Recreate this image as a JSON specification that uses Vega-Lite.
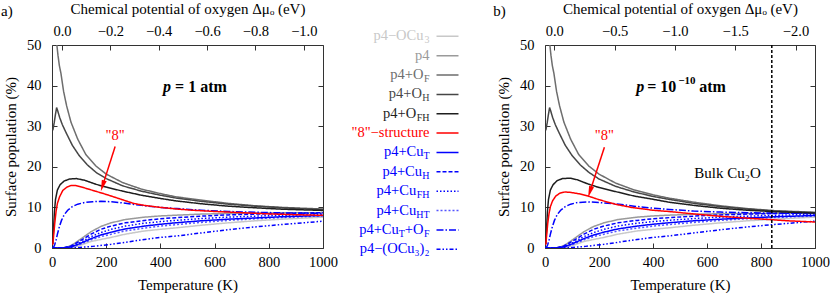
{
"$schema": "https://vega.github.io/schema/vega-lite/v6.json",
"padding": {"left": 0, "top": 0, "right": 0, "bottom": 0},
"config": {
  "font": "Liberation Serif",
  "view": {"stroke": "#333333", "strokeWidth": 1},
  "axis": {"labelFont": "Liberation Serif", "titleFont": "Liberation Serif", "labelFontSize": 14.5, "titleFontSize": 15, "titleFontWeight": "normal", "labelColor": "#000000", "titleColor": "#000000", "tickColor": "#333333", "tickSize": -5, "tickWidth": 1, "domain": false, "grid": false, "labelFlush": false, "labelOverlap": false},
  "axisBottom": {"labelPadding": 12, "titlePadding": 9},
  "axisLeft": {"labelPadding": 16, "titlePadding": 8},
  "axisTop": {"labelPadding": 12, "titlePadding": 7},
  "axisRight": {"labelPadding": 0}
},
"datasets": {
"A": [
{"s":"OCu3","T":0,"v":0},{"s":"OCu3","T":50,"v":0},{"s":"OCu3","T":80,"v":0.2},{"s":"OCu3","T":110,"v":0.8},{"s":"OCu3","T":144,"v":1.6},{"s":"OCu3","T":180,"v":2.1},{"s":"OCu3","T":218,"v":2.6},{"s":"OCu3","T":270,"v":3.4},{"s":"OCu3","T":341,"v":4.2},{"s":"OCu3","T":400,"v":4.6},{"s":"OCu3","T":464,"v":5.0},{"s":"OCu3","T":550,"v":5.6},{"s":"OCu3","T":650,"v":6.2},{"s":"OCu3","T":750,"v":6.7},{"s":"OCu3","T":850,"v":7.1},{"s":"OCu3","T":1000,"v":7.6},
{"s":"p4","T":0,"v":0},{"s":"p4","T":40,"v":0},{"s":"p4","T":60,"v":0.3},{"s":"p4","T":80,"v":1.0},{"s":"p4","T":110,"v":2.4},{"s":"p4","T":144,"v":4.0},{"s":"p4","T":180,"v":5.3},{"s":"p4","T":218,"v":6.2},{"s":"p4","T":270,"v":7.0},{"s":"p4","T":341,"v":7.6},{"s":"p4","T":400,"v":7.9},{"s":"p4","T":464,"v":8.1},{"s":"p4","T":550,"v":8.35},{"s":"p4","T":650,"v":8.5},{"s":"p4","T":750,"v":8.6},{"s":"p4","T":850,"v":8.65},{"s":"p4","T":1000,"v":8.7},
{"s":"CuHT","T":0,"v":0},{"s":"CuHT","T":40,"v":0},{"s":"CuHT","T":70,"v":0.2},{"s":"CuHT","T":100,"v":0.8},{"s":"CuHT","T":144,"v":2.0},{"s":"CuHT","T":180,"v":2.8},{"s":"CuHT","T":218,"v":3.4},{"s":"CuHT","T":270,"v":4.2},{"s":"CuHT","T":341,"v":4.9},{"s":"CuHT","T":400,"v":5.4},{"s":"CuHT","T":464,"v":5.8},{"s":"CuHT","T":550,"v":6.3},{"s":"CuHT","T":650,"v":6.8},{"s":"CuHT","T":750,"v":7.2},{"s":"CuHT","T":850,"v":7.5},{"s":"CuHT","T":1000,"v":7.9},
{"s":"CuFH","T":0,"v":0},{"s":"CuFH","T":40,"v":0},{"s":"CuFH","T":70,"v":0.3},{"s":"CuFH","T":100,"v":1.2},{"s":"CuFH","T":144,"v":2.8},{"s":"CuFH","T":180,"v":3.8},{"s":"CuFH","T":218,"v":4.6},{"s":"CuFH","T":270,"v":5.4},{"s":"CuFH","T":341,"v":6.1},{"s":"CuFH","T":400,"v":6.5},{"s":"CuFH","T":464,"v":6.85},{"s":"CuFH","T":550,"v":7.25},{"s":"CuFH","T":650,"v":7.6},{"s":"CuFH","T":750,"v":7.85},{"s":"CuFH","T":850,"v":8.05},{"s":"CuFH","T":1000,"v":8.3},
{"s":"CuH","T":0,"v":0},{"s":"CuH","T":40,"v":0},{"s":"CuH","T":70,"v":0.5},{"s":"CuH","T":100,"v":1.6},{"s":"CuH","T":144,"v":3.4},{"s":"CuH","T":180,"v":4.6},{"s":"CuH","T":218,"v":5.4},{"s":"CuH","T":270,"v":6.2},{"s":"CuH","T":341,"v":6.8},{"s":"CuH","T":400,"v":7.2},{"s":"CuH","T":464,"v":7.5},{"s":"CuH","T":550,"v":7.85},{"s":"CuH","T":650,"v":8.15},{"s":"CuH","T":750,"v":8.35},{"s":"CuH","T":850,"v":8.5},{"s":"CuH","T":1000,"v":8.7},
{"s":"CuT","T":0,"v":0},{"s":"CuT","T":40,"v":0},{"s":"CuT","T":70,"v":0.3},{"s":"CuT","T":100,"v":1.0},{"s":"CuT","T":144,"v":2.3},{"s":"CuT","T":180,"v":3.2},{"s":"CuT","T":218,"v":3.9},{"s":"CuT","T":270,"v":4.7},{"s":"CuT","T":341,"v":5.4},{"s":"CuT","T":400,"v":5.85},{"s":"CuT","T":464,"v":6.25},{"s":"CuT","T":550,"v":6.7},{"s":"CuT","T":650,"v":7.1},{"s":"CuT","T":750,"v":7.4},{"s":"CuT","T":850,"v":7.7},{"s":"CuT","T":1000,"v":8.0},
{"s":"OCu32","T":0,"v":0},{"s":"OCu32","T":40,"v":0},{"s":"OCu32","T":100,"v":0.15},{"s":"OCu32","T":150,"v":0.4},{"s":"OCu32","T":218,"v":0.9},{"s":"OCu32","T":280,"v":1.5},{"s":"OCu32","T":341,"v":2.1},{"s":"OCu32","T":400,"v":2.6},{"s":"OCu32","T":464,"v":3.0},{"s":"OCu32","T":550,"v":3.7},{"s":"OCu32","T":650,"v":4.5},{"s":"OCu32","T":750,"v":5.2},{"s":"OCu32","T":850,"v":5.8},{"s":"OCu32","T":1000,"v":6.6},
{"s":"CuTOF","T":0,"v":0},{"s":"CuTOF","T":5,"v":0.1},{"s":"CuTOF","T":10,"v":0.8},{"s":"CuTOF","T":15,"v":2.0},{"s":"CuTOF","T":20,"v":3.4},{"s":"CuTOF","T":27,"v":5.2},{"s":"CuTOF","T":35,"v":6.8},{"s":"CuTOF","T":45,"v":8.2},{"s":"CuTOF","T":58,"v":9.3},{"s":"CuTOF","T":75,"v":10.2},{"s":"CuTOF","T":95,"v":10.8},{"s":"CuTOF","T":120,"v":11.2},{"s":"CuTOF","T":150,"v":11.4},{"s":"CuTOF","T":180,"v":11.5},{"s":"CuTOF","T":220,"v":11.4},{"s":"CuTOF","T":260,"v":11.1},{"s":"CuTOF","T":330,"v":10.5},{"s":"CuTOF","T":400,"v":10.0},{"s":"CuTOF","T":460,"v":9.7},{"s":"CuTOF","T":550,"v":9.3},{"s":"CuTOF","T":650,"v":9.0},{"s":"CuTOF","T":750,"v":8.8},{"s":"CuTOF","T":850,"v":8.65},{"s":"CuTOF","T":1000,"v":8.5},
{"s":"OF","T":14,"v":58},{"s":"OF","T":18,"v":50},{"s":"OF","T":22,"v":47.5},{"s":"OF","T":27,"v":45},{"s":"OF","T":33,"v":43},{"s":"OF","T":43,"v":38.5},{"s":"OF","T":54,"v":35},{"s":"OF","T":70,"v":31},{"s":"OF","T":95,"v":26.8},{"s":"OF","T":125,"v":23},{"s":"OF","T":162,"v":20.2},{"s":"OF","T":200,"v":18.2},{"s":"OF","T":261,"v":16.1},{"s":"OF","T":330,"v":14.5},{"s":"OF","T":400,"v":13.4},{"s":"OF","T":458,"v":12.6},{"s":"OF","T":550,"v":11.8},{"s":"OF","T":650,"v":11.0},{"s":"OF","T":750,"v":10.4},{"s":"OF","T":850,"v":10.0},{"s":"OF","T":1000,"v":9.6},
{"s":"OH","T":3,"v":29},{"s":"OH","T":8,"v":30.8},{"s":"OH","T":13,"v":33},{"s":"OH","T":17,"v":34.6},{"s":"OH","T":21,"v":33.8},{"s":"OH","T":28,"v":32.2},{"s":"OH","T":38,"v":30.4},{"s":"OH","T":52,"v":28.4},{"s":"OH","T":75,"v":25.3},{"s":"OH","T":101,"v":22.7},{"s":"OH","T":130,"v":20.5},{"s":"OH","T":163,"v":18.6},{"s":"OH","T":200,"v":17.1},{"s":"OH","T":261,"v":15.3},{"s":"OH","T":330,"v":14.0},{"s":"OH","T":400,"v":13.0},{"s":"OH","T":458,"v":12.3},{"s":"OH","T":550,"v":11.5},{"s":"OH","T":650,"v":10.8},{"s":"OH","T":750,"v":10.3},{"s":"OH","T":850,"v":9.9},{"s":"OH","T":1000,"v":9.45},
{"s":"OFH","T":3,"v":1},{"s":"OFH","T":6,"v":5},{"s":"OFH","T":9,"v":9},{"s":"OFH","T":13,"v":12},{"s":"OFH","T":20,"v":14.3},{"s":"OFH","T":30,"v":15.6},{"s":"OFH","T":45,"v":16.5},{"s":"OFH","T":65,"v":17.0},{"s":"OFH","T":90,"v":17.1},{"s":"OFH","T":120,"v":16.7},{"s":"OFH","T":162,"v":15.7},{"s":"OFH","T":200,"v":15.0},{"s":"OFH","T":261,"v":14.0},{"s":"OFH","T":330,"v":13.0},{"s":"OFH","T":400,"v":12.2},{"s":"OFH","T":458,"v":11.6},{"s":"OFH","T":550,"v":10.9},{"s":"OFH","T":650,"v":10.3},{"s":"OFH","T":750,"v":9.9},{"s":"OFH","T":850,"v":9.55},{"s":"OFH","T":1000,"v":9.25},
{"s":"8","T":3,"v":0.8},{"s":"8","T":6,"v":3},{"s":"8","T":10,"v":6},{"s":"8","T":15,"v":9},{"s":"8","T":20,"v":11},{"s":"8","T":28,"v":12.6},{"s":"8","T":40,"v":14.2},{"s":"8","T":55,"v":15.0},{"s":"8","T":70,"v":15.4},{"s":"8","T":85,"v":15.4},{"s":"8","T":105,"v":15.1},{"s":"8","T":130,"v":14.6},{"s":"8","T":160,"v":14.0},{"s":"8","T":200,"v":13.2},{"s":"8","T":255,"v":12.0},{"s":"8","T":300,"v":11.0},{"s":"8","T":340,"v":10.5},{"s":"8","T":400,"v":10.0},{"s":"8","T":460,"v":9.6},{"s":"8","T":520,"v":9.3},{"s":"8","T":600,"v":9.0},{"s":"8","T":700,"v":8.7},{"s":"8","T":800,"v":8.4},{"s":"8","T":900,"v":8.2},{"s":"8","T":1000,"v":8.05}
],
"B": [
{"s":"OCu3","T":0,"v":0},{"s":"OCu3","T":50,"v":0},{"s":"OCu3","T":80,"v":0.2},{"s":"OCu3","T":110,"v":0.8},{"s":"OCu3","T":144,"v":1.6},{"s":"OCu3","T":180,"v":2.1},{"s":"OCu3","T":218,"v":2.6},{"s":"OCu3","T":270,"v":3.4},{"s":"OCu3","T":341,"v":4.2},{"s":"OCu3","T":400,"v":4.6},{"s":"OCu3","T":464,"v":5.0},{"s":"OCu3","T":550,"v":5.6},{"s":"OCu3","T":650,"v":6.2},{"s":"OCu3","T":750,"v":6.7},{"s":"OCu3","T":850,"v":7.1},{"s":"OCu3","T":1000,"v":7.6},
{"s":"p4","T":0,"v":0},{"s":"p4","T":40,"v":0},{"s":"p4","T":60,"v":0.3},{"s":"p4","T":80,"v":1.0},{"s":"p4","T":110,"v":2.4},{"s":"p4","T":144,"v":4.0},{"s":"p4","T":180,"v":5.3},{"s":"p4","T":218,"v":6.2},{"s":"p4","T":270,"v":7.0},{"s":"p4","T":341,"v":7.6},{"s":"p4","T":400,"v":7.9},{"s":"p4","T":464,"v":8.1},{"s":"p4","T":550,"v":8.3},{"s":"p4","T":650,"v":8.45},{"s":"p4","T":750,"v":8.5},{"s":"p4","T":850,"v":8.55},{"s":"p4","T":1000,"v":8.6},
{"s":"CuHT","T":0,"v":0},{"s":"CuHT","T":40,"v":0},{"s":"CuHT","T":70,"v":0.2},{"s":"CuHT","T":100,"v":0.8},{"s":"CuHT","T":144,"v":2.0},{"s":"CuHT","T":180,"v":2.8},{"s":"CuHT","T":218,"v":3.4},{"s":"CuHT","T":270,"v":4.2},{"s":"CuHT","T":341,"v":4.9},{"s":"CuHT","T":400,"v":5.4},{"s":"CuHT","T":464,"v":5.8},{"s":"CuHT","T":550,"v":6.3},{"s":"CuHT","T":650,"v":6.8},{"s":"CuHT","T":750,"v":7.2},{"s":"CuHT","T":850,"v":7.5},{"s":"CuHT","T":1000,"v":7.9},
{"s":"CuFH","T":0,"v":0},{"s":"CuFH","T":40,"v":0},{"s":"CuFH","T":70,"v":0.3},{"s":"CuFH","T":100,"v":1.2},{"s":"CuFH","T":144,"v":2.8},{"s":"CuFH","T":180,"v":3.8},{"s":"CuFH","T":218,"v":4.6},{"s":"CuFH","T":270,"v":5.4},{"s":"CuFH","T":341,"v":6.1},{"s":"CuFH","T":400,"v":6.5},{"s":"CuFH","T":464,"v":6.85},{"s":"CuFH","T":550,"v":7.25},{"s":"CuFH","T":650,"v":7.6},{"s":"CuFH","T":750,"v":7.85},{"s":"CuFH","T":850,"v":8.05},{"s":"CuFH","T":1000,"v":8.3},
{"s":"CuH","T":0,"v":0},{"s":"CuH","T":40,"v":0},{"s":"CuH","T":70,"v":0.5},{"s":"CuH","T":100,"v":1.6},{"s":"CuH","T":144,"v":3.4},{"s":"CuH","T":180,"v":4.6},{"s":"CuH","T":218,"v":5.4},{"s":"CuH","T":270,"v":6.2},{"s":"CuH","T":341,"v":6.8},{"s":"CuH","T":400,"v":7.2},{"s":"CuH","T":464,"v":7.5},{"s":"CuH","T":550,"v":7.85},{"s":"CuH","T":650,"v":8.15},{"s":"CuH","T":750,"v":8.35},{"s":"CuH","T":850,"v":8.5},{"s":"CuH","T":1000,"v":8.65},
{"s":"CuT","T":0,"v":0},{"s":"CuT","T":40,"v":0},{"s":"CuT","T":70,"v":0.3},{"s":"CuT","T":100,"v":1.0},{"s":"CuT","T":144,"v":2.3},{"s":"CuT","T":180,"v":3.2},{"s":"CuT","T":218,"v":3.9},{"s":"CuT","T":270,"v":4.7},{"s":"CuT","T":341,"v":5.4},{"s":"CuT","T":400,"v":5.85},{"s":"CuT","T":464,"v":6.25},{"s":"CuT","T":550,"v":6.7},{"s":"CuT","T":650,"v":7.1},{"s":"CuT","T":750,"v":7.4},{"s":"CuT","T":850,"v":7.7},{"s":"CuT","T":1000,"v":8.0},
{"s":"OCu32","T":0,"v":0},{"s":"OCu32","T":40,"v":0},{"s":"OCu32","T":100,"v":0.15},{"s":"OCu32","T":150,"v":0.4},{"s":"OCu32","T":218,"v":0.9},{"s":"OCu32","T":280,"v":1.5},{"s":"OCu32","T":341,"v":2.1},{"s":"OCu32","T":400,"v":2.6},{"s":"OCu32","T":464,"v":3.0},{"s":"OCu32","T":550,"v":3.7},{"s":"OCu32","T":650,"v":4.5},{"s":"OCu32","T":750,"v":5.2},{"s":"OCu32","T":850,"v":5.8},{"s":"OCu32","T":1000,"v":6.6},
{"s":"CuTOF","T":0,"v":0},{"s":"CuTOF","T":5,"v":0.1},{"s":"CuTOF","T":10,"v":0.8},{"s":"CuTOF","T":15,"v":2.0},{"s":"CuTOF","T":20,"v":3.4},{"s":"CuTOF","T":27,"v":5.2},{"s":"CuTOF","T":35,"v":6.8},{"s":"CuTOF","T":45,"v":8.2},{"s":"CuTOF","T":58,"v":9.3},{"s":"CuTOF","T":75,"v":10.2},{"s":"CuTOF","T":95,"v":10.8},{"s":"CuTOF","T":120,"v":11.2},{"s":"CuTOF","T":160,"v":11.35},{"s":"CuTOF","T":200,"v":11.2},{"s":"CuTOF","T":260,"v":10.9},{"s":"CuTOF","T":330,"v":10.3},{"s":"CuTOF","T":400,"v":9.8},{"s":"CuTOF","T":460,"v":9.5},{"s":"CuTOF","T":550,"v":9.1},{"s":"CuTOF","T":650,"v":8.85},{"s":"CuTOF","T":750,"v":8.7},{"s":"CuTOF","T":850,"v":8.6},{"s":"CuTOF","T":1000,"v":8.5},
{"s":"OF","T":14,"v":58},{"s":"OF","T":18,"v":50},{"s":"OF","T":22,"v":47.5},{"s":"OF","T":27,"v":45},{"s":"OF","T":33,"v":43},{"s":"OF","T":43,"v":38.5},{"s":"OF","T":54,"v":35},{"s":"OF","T":70,"v":31},{"s":"OF","T":95,"v":26.8},{"s":"OF","T":125,"v":23},{"s":"OF","T":162,"v":20.2},{"s":"OF","T":200,"v":18.2},{"s":"OF","T":261,"v":16.0},{"s":"OF","T":330,"v":14.3},{"s":"OF","T":400,"v":13.1},{"s":"OF","T":458,"v":12.3},{"s":"OF","T":550,"v":11.3},{"s":"OF","T":650,"v":10.4},{"s":"OF","T":750,"v":9.7},{"s":"OF","T":850,"v":9.2},{"s":"OF","T":1000,"v":8.8},
{"s":"OH","T":3,"v":29},{"s":"OH","T":8,"v":30.8},{"s":"OH","T":13,"v":33},{"s":"OH","T":17,"v":34.6},{"s":"OH","T":21,"v":33.8},{"s":"OH","T":28,"v":32.2},{"s":"OH","T":38,"v":30.4},{"s":"OH","T":52,"v":28.4},{"s":"OH","T":75,"v":25.3},{"s":"OH","T":101,"v":22.7},{"s":"OH","T":130,"v":20.5},{"s":"OH","T":163,"v":18.6},{"s":"OH","T":200,"v":17.0},{"s":"OH","T":261,"v":15.2},{"s":"OH","T":330,"v":13.8},{"s":"OH","T":400,"v":12.7},{"s":"OH","T":458,"v":12.0},{"s":"OH","T":550,"v":11.0},{"s":"OH","T":650,"v":10.2},{"s":"OH","T":750,"v":9.6},{"s":"OH","T":850,"v":9.1},{"s":"OH","T":1000,"v":8.7},
{"s":"OFH","T":3,"v":1},{"s":"OFH","T":6,"v":5},{"s":"OFH","T":9,"v":9},{"s":"OFH","T":13,"v":12},{"s":"OFH","T":20,"v":14.3},{"s":"OFH","T":30,"v":15.6},{"s":"OFH","T":45,"v":16.6},{"s":"OFH","T":65,"v":17.1},{"s":"OFH","T":93,"v":17.2},{"s":"OFH","T":120,"v":16.8},{"s":"OFH","T":162,"v":15.7},{"s":"OFH","T":200,"v":14.9},{"s":"OFH","T":261,"v":13.9},{"s":"OFH","T":330,"v":12.8},{"s":"OFH","T":400,"v":12.0},{"s":"OFH","T":458,"v":11.3},{"s":"OFH","T":550,"v":10.5},{"s":"OFH","T":650,"v":9.8},{"s":"OFH","T":750,"v":9.3},{"s":"OFH","T":850,"v":8.95},{"s":"OFH","T":1000,"v":8.6},
{"s":"8","T":3,"v":0.8},{"s":"8","T":6,"v":3},{"s":"8","T":10,"v":6},{"s":"8","T":15,"v":8.5},{"s":"8","T":20,"v":10.2},{"s":"8","T":28,"v":11.6},{"s":"8","T":40,"v":12.8},{"s":"8","T":55,"v":13.5},{"s":"8","T":74,"v":13.8},{"s":"8","T":95,"v":13.7},{"s":"8","T":130,"v":13.3},{"s":"8","T":160,"v":12.8},{"s":"8","T":200,"v":11.9},{"s":"8","T":259,"v":10.8},{"s":"8","T":320,"v":10.0},{"s":"8","T":400,"v":9.3},{"s":"8","T":457,"v":9.0},{"s":"8","T":550,"v":8.4},{"s":"8","T":650,"v":7.8},{"s":"8","T":750,"v":7.35},{"s":"8","T":808,"v":7.1},{"s":"8","T":900,"v":6.7},{"s":"8","T":1000,"v":6.4}
],
"legend": [
{"row":1,"s":"OCu3","m":"p4−OCu","sub":"3","c":"a"},
{"row":2,"s":"p4","m":"p4","c":"n"},
{"row":3,"s":"OF","m":"p4+O","sub":"F","c":"a"},
{"row":4,"s":"OH","m":"p4+O","sub":"H","c":"b"},
{"row":5,"s":"OFH","m":"p4+O","sub":"FH","c":"c"},
{"row":6,"s":"8","m":"\"8\"−structure","c":"n"},
{"row":7,"s":"CuT","m":"p4+Cu","sub":"T","c":"a"},
{"row":8,"s":"CuH","m":"p4+Cu","sub":"H","c":"b"},
{"row":9,"s":"CuFH","m":"p4+Cu","sub":"FH","c":"c"},
{"row":10,"s":"CuHT","m":"p4+Cu","sub":"HT","c":"c"},
{"row":11,"s":"CuTOF","m":"+O","sub":"F","c":"a","m0":"p4+Cu","sub0":"T"},
{"row":12,"s":"OCu32","m":"p4−(OCu₃)₂","c":"n"}
]
},
"spacing": 4,
"hconcat": [
{
  "width": 271, "height": 203,
  "resolve": {"axis": {"x": "independent", "y": "independent"}},
  "layer": [
    {
      "data": {"name": "A"},
      "mark": {"type": "line", "strokeWidth": 1.5, "clip": true},
      "encoding": {
        "x": {"field": "T", "type": "quantitative", "scale": {"domain": [0, 1000], "nice": false}, "axis": {"orient": "bottom", "values": [0, 200, 400, 600, 800, 1000], "format": "d", "title": "Temperature (K)"}},
        "y": {"field": "v", "type": "quantitative", "scale": {"domain": [0, 50], "nice": false}, "axis": {"orient": "left", "values": [0, 10, 20, 30, 40, 50], "format": "d", "title": "Surface population (%)"}},
        "stroke": {"field": "s", "type": "nominal", "legend": null, "scale": {"domain": ["OCu3","p4","OF","OH","OFH","8","CuT","CuH","CuFH","CuHT","CuTOF","OCu32"], "range": ["#c8c8c8","#9a9a9a","#6e6e6e","#464646","#1e1e1e","#ff0000","#0000ff","#0000ff","#0000ff","#5555ff","#0000ff","#0000ff"]}},
        "strokeDash": {"field": "s", "type": "nominal", "legend": null, "scale": {"domain": ["OCu3","p4","OF","OH","OFH","8","CuT","CuH","CuFH","CuHT","CuTOF","OCu32"], "range": [[1,0],[1,0],[1,0],[1,0],[1,0],[1,0],[1,0],[4,2],[1.5,2],[2,2],[7,2,1.5,2],[4,2,1.5,2,1.5,2]]}}
      }
    },
    {
      "data": {"name": "A"},
      "transform": [{"filter": "datum.v <= 50 && datum.T >= 0 && datum.T <= 1000"}],
      "mark": {"type": "point", "opacity": 0, "size": 0, "strokeWidth": 0},
      "encoding": {
        "x": {"field": "T", "type": "quantitative", "axis": {"orient": "top", "values": [36.9, 215.4, 393.8, 572.2, 750.7, 929.1], "labelExpr": "datum.value < 100 ? '0.0' : datum.value < 300 ? '−0.2' : datum.value < 500 ? '−0.4' : datum.value < 650 ? '−0.6' : datum.value < 850 ? '−0.8' : '−1.0'", "title": "Chemical potential of oxygen Δμₒ (eV)"}},
        "y": {"field": "v", "type": "quantitative", "axis": {"orient": "right", "values": [0, 10, 20, 30, 40, 50], "labels": false, "title": null}}
      }
    },
    {
      "data": {"values": [{"t": "p"}]},
      "mark": {"type": "text", "align": "right", "baseline": "middle", "fontSize": 16, "fontWeight": "bold", "fontStyle": "italic", "dx": -1},
      "encoding": {"x": {"datum": 443, "type": "quantitative", "axis": null}, "y": {"datum": 39.75, "type": "quantitative", "axis": null}, "text": {"field": "t"}}
    },
    {
      "data": {"values": [{"t": "= 1 atm"}]},
      "mark": {"type": "text", "align": "left", "baseline": "middle", "fontSize": 16, "fontWeight": "bold", "dx": 3},
      "encoding": {"x": {"datum": 443, "type": "quantitative", "axis": null}, "y": {"datum": 39.75, "type": "quantitative", "axis": null}, "text": {"field": "t"}}
    },
    {
      "data": {"values": [{"t": "\"8\""}]},
      "mark": {"type": "text", "align": "center", "baseline": "middle", "fontSize": 14.5, "color": "#ff0000"},
      "encoding": {"x": {"datum": 233, "type": "quantitative", "axis": null}, "y": {"datum": 27.5, "type": "quantitative", "axis": null}, "text": {"field": "t"}}
    },
    {
      "data": {"values": [{"t": "arrow"}]},
      "mark": {"type": "rule", "color": "#ff0000", "strokeWidth": 1.5},
      "encoding": {"x": {"datum": 233, "type": "quantitative", "axis": null}, "y": {"datum": 25.0, "type": "quantitative", "axis": null}, "x2": {"datum": 186.6}, "y2": {"datum": 15.3}}
    },
    {
      "data": {"values": [{"t": "head"}]},
      "mark": {"type": "point", "shape": "M0,-1L-0.45,1L0.45,1Z", "filled": true, "color": "#ff0000", "size": 130, "angle": 197.5, "opacity": 1, "strokeWidth": 0},
      "encoding": {"x": {"datum": 186.6, "type": "quantitative", "axis": null}, "y": {"datum": 15.3, "type": "quantitative", "axis": null}}
    },
    {
      "data": {"values": [{"t": "a)"}]},
      "mark": {"type": "text", "align": "left", "baseline": "middle", "fontSize": 15},
      "encoding": {"x": {"datum": -188, "type": "quantitative", "axis": null}, "y": {"datum": 58.3, "type": "quantitative", "axis": null}, "text": {"field": "t"}}
    }
  ]
},
{
  "width": 145.5, "height": 203,
  "view": {"stroke": null},
  "data": {"name": "legend"},
  "encoding": {"y": {"field": "row", "type": "quantitative", "scale": {"domain": [1.449, 11.933], "reverse": true, "nice": false, "zero": false}, "axis": null}},
  "layer": [
    {
      "mark": {"type": "rule", "strokeWidth": 1.5},
      "encoding": {
        "x": {"datum": 0.6495, "type": "quantitative", "scale": {"domain": [0, 1], "nice": false}, "axis": null},
        "x2": {"datum": 0.8007},
        "stroke": {"field": "s", "type": "nominal", "legend": null, "scale": {"domain": ["OCu3","p4","OF","OH","OFH","8","CuT","CuH","CuFH","CuHT","CuTOF","OCu32"], "range": ["#c8c8c8","#9a9a9a","#6e6e6e","#464646","#1e1e1e","#ff0000","#0000ff","#0000ff","#0000ff","#5555ff","#0000ff","#0000ff"]}},
        "strokeDash": {"field": "s", "type": "nominal", "legend": null, "scale": {"domain": ["OCu3","p4","OF","OH","OFH","8","CuT","CuH","CuFH","CuHT","CuTOF","OCu32"], "range": [[1,0],[1,0],[1,0],[1,0],[1,0],[1,0],[1,0],[4,2],[1.5,2],[2,2],[7,2,1.5,2],[4,2,1.5,2,1.5,2]]}}
      }
    },
    {
      "transform": [{"filter": "datum.c == 'n'"}],
      "mark": {"type": "text", "align": "right", "baseline": "middle", "fontSize": 14.5},
      "encoding": {"x": {"datum": 0.6014, "type": "quantitative", "axis": null}, "text": {"field": "m"},
        "fill": {"field": "s", "type": "nominal", "legend": null, "scale": {"domain": ["OCu3","p4","OF","OH","OFH","8","CuT","CuH","CuFH","CuHT","CuTOF","OCu32"], "range": ["#c8c8c8","#9a9a9a","#6e6e6e","#464646","#1e1e1e","#ff0000","#0000ff","#0000ff","#0000ff","#0000ff","#0000ff","#0000ff"]}}}
    },
    {
      "transform": [{"filter": "datum.c == 'a'"}],
      "mark": {"type": "text", "align": "right", "baseline": "middle", "fontSize": 14.5, "dx": -6},
      "encoding": {"x": {"datum": 0.6014, "type": "quantitative", "axis": null}, "text": {"field": "m"}, "fill": {"field": "s", "type": "nominal", "legend": null}}
    },
    {
      "transform": [{"filter": "datum.c == 'b'"}],
      "mark": {"type": "text", "align": "right", "baseline": "middle", "fontSize": 14.5, "dx": -7.5},
      "encoding": {"x": {"datum": 0.6014, "type": "quantitative", "axis": null}, "text": {"field": "m"}, "fill": {"field": "s", "type": "nominal", "legend": null}}
    },
    {
      "transform": [{"filter": "datum.c == 'c'"}],
      "mark": {"type": "text", "align": "right", "baseline": "middle", "fontSize": 14.5, "dx": -13.3},
      "encoding": {"x": {"datum": 0.6014, "type": "quantitative", "axis": null}, "text": {"field": "m"}, "fill": {"field": "s", "type": "nominal", "legend": null}}
    },
    {
      "transform": [{"filter": "datum.c != 'n'"}],
      "mark": {"type": "text", "align": "right", "baseline": "middle", "fontSize": 10, "dy": 4},
      "encoding": {"x": {"datum": 0.6014, "type": "quantitative", "axis": null}, "text": {"field": "sub"}, "fill": {"field": "s", "type": "nominal", "legend": null}}
    },
    {
      "transform": [{"filter": "datum.m0"}],
      "mark": {"type": "text", "align": "right", "baseline": "middle", "fontSize": 10, "dy": 4, "dx": -24.6},
      "encoding": {"x": {"datum": 0.6014, "type": "quantitative", "axis": null}, "text": {"field": "sub0"}, "fill": {"field": "s", "type": "nominal", "legend": null}}
    },
    {
      "transform": [{"filter": "datum.m0"}],
      "mark": {"type": "text", "align": "right", "baseline": "middle", "fontSize": 14.5, "dx": -30.7},
      "encoding": {"x": {"datum": 0.6014, "type": "quantitative", "axis": null}, "text": {"field": "m0"}, "fill": {"field": "s", "type": "nominal", "legend": null}}
    }
  ]
},
{
  "width": 270, "height": 203,
  "resolve": {"axis": {"x": "independent", "y": "independent"}},
  "layer": [
    {
      "data": {"name": "B"},
      "mark": {"type": "line", "strokeWidth": 1.5, "clip": true},
      "encoding": {
        "x": {"field": "T", "type": "quantitative", "scale": {"domain": [0, 1000], "nice": false}, "axis": {"orient": "bottom", "values": [0, 200, 400, 600, 800, 1000], "format": "d", "title": "Temperature (K)"}},
        "y": {"field": "v", "type": "quantitative", "scale": {"domain": [0, 50], "nice": false}, "axis": {"orient": "left", "values": [0, 10, 20, 30, 40, 50], "format": "d", "title": "Surface population (%)"}},
        "stroke": {"field": "s", "type": "nominal", "legend": null, "scale": {"domain": ["OCu3","p4","OF","OH","OFH","8","CuT","CuH","CuFH","CuHT","CuTOF","OCu32"], "range": ["#c8c8c8","#9a9a9a","#6e6e6e","#464646","#1e1e1e","#ff0000","#0000ff","#0000ff","#0000ff","#5555ff","#0000ff","#0000ff"]}},
        "strokeDash": {"field": "s", "type": "nominal", "legend": null, "scale": {"domain": ["OCu3","p4","OF","OH","OFH","8","CuT","CuH","CuFH","CuHT","CuTOF","OCu32"], "range": [[1,0],[1,0],[1,0],[1,0],[1,0],[1,0],[1,0],[4,2],[1.5,2],[2,2],[7,2,1.5,2],[4,2,1.5,2,1.5,2]]}}
      }
    },
    {
      "data": {"name": "B"},
      "transform": [{"filter": "datum.v <= 50 && datum.T >= 0 && datum.T <= 1000"}],
      "mark": {"type": "point", "opacity": 0, "size": 0, "strokeWidth": 0},
      "encoding": {
        "x": {"field": "T", "type": "quantitative", "axis": {"orient": "top", "values": [34.4, 257.8, 481.1, 704.4, 927.8], "labelExpr": "datum.value < 100 ? '0.0' : datum.value < 350 ? '−0.5' : datum.value < 600 ? '−1.0' : datum.value < 800 ? '−1.5' : '−2.0'", "title": "Chemical potential of oxygen Δμₒ (eV)"}},
        "y": {"field": "v", "type": "quantitative", "axis": {"orient": "right", "values": [0, 10, 20, 30, 40, 50], "labels": false, "title": null}}
      }
    },
    {
      "data": {"values": [{"t": "bulk"}]},
      "mark": {"type": "rule", "color": "#000000", "strokeWidth": 1.5, "strokeDash": [3, 2]},
      "encoding": {"x": {"datum": 840, "type": "quantitative", "axis": null}}
    },
    {
      "data": {"values": [{"t": "Bulk Cu₂O"}]},
      "mark": {"type": "text", "align": "center", "baseline": "middle", "fontSize": 15},
      "encoding": {"x": {"datum": 676, "type": "quantitative", "axis": null}, "y": {"datum": 18.4, "type": "quantitative", "axis": null}, "text": {"field": "t"}}
    },
    {
      "data": {"values": [{"t": "p"}]},
      "mark": {"type": "text", "align": "right", "baseline": "middle", "fontSize": 16, "fontWeight": "bold", "fontStyle": "italic", "dx": -1},
      "encoding": {"x": {"datum": 371, "type": "quantitative", "axis": null}, "y": {"datum": 39.7, "type": "quantitative", "axis": null}, "text": {"field": "t"}}
    },
    {
      "data": {"values": [{"t": "= 10"}]},
      "mark": {"type": "text", "align": "left", "baseline": "middle", "fontSize": 16, "fontWeight": "bold", "dx": 2},
      "encoding": {"x": {"datum": 371, "type": "quantitative", "axis": null}, "y": {"datum": 39.7, "type": "quantitative", "axis": null}, "text": {"field": "t"}}
    },
    {
      "data": {"values": [{"t": "−10"}]},
      "mark": {"type": "text", "align": "left", "baseline": "middle", "fontSize": 11, "fontWeight": "bold", "dx": 33, "dy": -6},
      "encoding": {"x": {"datum": 371, "type": "quantitative", "axis": null}, "y": {"datum": 39.7, "type": "quantitative", "axis": null}, "text": {"field": "t"}}
    },
    {
      "data": {"values": [{"t": "atm"}]},
      "mark": {"type": "text", "align": "left", "baseline": "middle", "fontSize": 16, "fontWeight": "bold", "dx": 54},
      "encoding": {"x": {"datum": 371, "type": "quantitative", "axis": null}, "y": {"datum": 39.7, "type": "quantitative", "axis": null}, "text": {"field": "t"}}
    },
    {
      "data": {"values": [{"t": "\"8\""}]},
      "mark": {"type": "text", "align": "center", "baseline": "middle", "fontSize": 14.5, "color": "#ff0000"},
      "encoding": {"x": {"datum": 220, "type": "quantitative", "axis": null}, "y": {"datum": 27.5, "type": "quantitative", "axis": null}, "text": {"field": "t"}}
    },
    {
      "data": {"values": [{"t": "arrow"}]},
      "mark": {"type": "rule", "color": "#ff0000", "strokeWidth": 1.5},
      "encoding": {"x": {"datum": 220, "type": "quantitative", "axis": null}, "y": {"datum": 24.8, "type": "quantitative", "axis": null}, "x2": {"datum": 166}, "y2": {"datum": 13.8}}
    },
    {
      "data": {"values": [{"t": "head"}]},
      "mark": {"type": "point", "shape": "M0,-1L-0.45,1L0.45,1Z", "filled": true, "color": "#ff0000", "size": 130, "angle": 197.9, "opacity": 1, "strokeWidth": 0},
      "encoding": {"x": {"datum": 166, "type": "quantitative", "axis": null}, "y": {"datum": 13.8, "type": "quantitative", "axis": null}}
    },
    {
      "data": {"values": [{"t": "b)"}]},
      "mark": {"type": "text", "align": "left", "baseline": "middle", "fontSize": 15},
      "encoding": {"x": {"datum": -191.5, "type": "quantitative", "axis": null}, "y": {"datum": 58.3, "type": "quantitative", "axis": null}, "text": {"field": "t"}}
    }
  ]
}
]
}
